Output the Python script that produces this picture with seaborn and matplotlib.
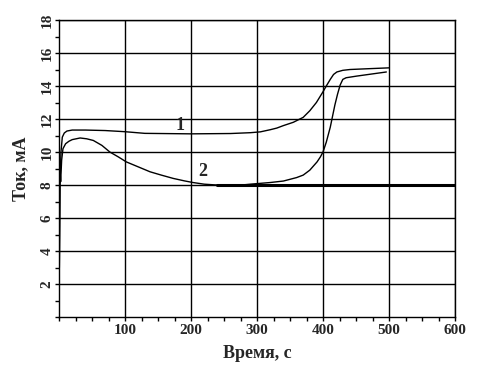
import numpy as np
import pandas as pd
import seaborn as sns
import matplotlib.pyplot as plt
from matplotlib.ticker import MultipleLocator

# кривая 1
x1 = [0.5, 1.5, 3, 5, 8, 12, 20, 40, 70, 100, 130, 200, 260, 290, 305, 320, 330, 340, 355, 370,
      380, 390, 400, 405, 411, 416, 421, 430, 441, 470, 500]
y1 = [3.0, 8.0, 10.0, 10.9, 11.15, 11.27, 11.33, 11.33, 11.3, 11.23, 11.13, 11.1, 11.12, 11.17, 11.22, 11.35, 11.45, 11.6, 11.8, 12.1,
      12.5, 13.0, 13.65, 14.0, 14.4, 14.7, 14.85, 14.95, 15.0, 15.05, 15.1]

# кривая 2
x2 = [0.5, 1.5, 2.5, 4, 6, 10, 15, 20, 32, 42, 52, 65, 77, 90, 102, 120, 138, 155, 173, 190, 203, 220,
      239, 264, 290, 320, 340, 360, 370, 380, 391, 396, 400, 405, 411, 418, 422, 426, 430, 435, 451, 496]
y2 = [3.0, 9.0, 8.2, 9.5, 10.2, 10.5, 10.65, 10.75, 10.85, 10.8, 10.7, 10.4, 10.0, 9.7, 9.4, 9.1, 8.8, 8.6, 8.4, 8.25, 8.15, 8.05,
      8.0, 7.95, 8.05, 8.15, 8.24, 8.45, 8.6, 8.9, 9.4, 9.7, 10.0, 10.6, 11.5, 12.85, 13.5, 14.06, 14.4, 14.5, 14.6, 14.85]

# уровень 8 мА
x3 = [240, 600]
y3 = [8.0, 8.0]

xticks = [100, 200, 300, 400, 500, 600]
yticks = [2, 4, 6, 8, 10, 12, 14, 16, 18]

sns.set_style("white")
plt.rcParams['font.family'] = ['Liberation Serif', 'DejaVu Serif']
plt.rcParams['font.weight'] = 'bold'

fig = plt.figure(figsize=(4.82, 3.65), dpi=100)
ax = fig.add_axes([59 / 482, 48 / 365, 396 / 482, 297 / 365])

sns.lineplot(x=x1, y=y1, ax=ax, color="black", linewidth=1.0)
sns.lineplot(x=x2, y=y2, ax=ax, color="black", linewidth=1.0)
sns.lineplot(x=x3, y=y3, ax=ax, color="black", linewidth=2.2)

ax.set_xlim(0, 600)
ax.set_ylim(0, 18)
ax.set_xticks(xticks)
ax.set_yticks(yticks)
ax.xaxis.set_minor_locator(MultipleLocator(25))
ax.yaxis.set_minor_locator(MultipleLocator(1))
ax.grid(True, which="major", color="black", linewidth=1.0)
ax.tick_params(which="major", direction="out", length=3, width=1, color="black", labelsize=11, pad=2,
               bottom=True, left=True)
ax.tick_params(axis="y", which="major", pad=1)
ax.tick_params(which="minor", direction="out", length=3, width=1, color="black", bottom=True, left=True)
for lab in ax.get_yticklabels():
    lab.set_rotation(90)
    lab.set_va("center")
for s in ax.spines.values():
    s.set_color("black")
    s.set_linewidth(1.0)

ax.set_xlabel("Время, с", fontsize=13, fontweight="bold", labelpad=6)
ax.set_ylabel("Ток, мА", fontsize=13, fontweight="bold")
ax.yaxis.set_label_coords(-0.075, 0.5)

ax.text(183, 11.6, "1", fontsize=13, fontweight="bold", ha="center", va="center")
ax.text(218, 8.8, "2", fontsize=13, fontweight="bold", ha="center", va="center")

fig.savefig("out.png", dpi=100)
